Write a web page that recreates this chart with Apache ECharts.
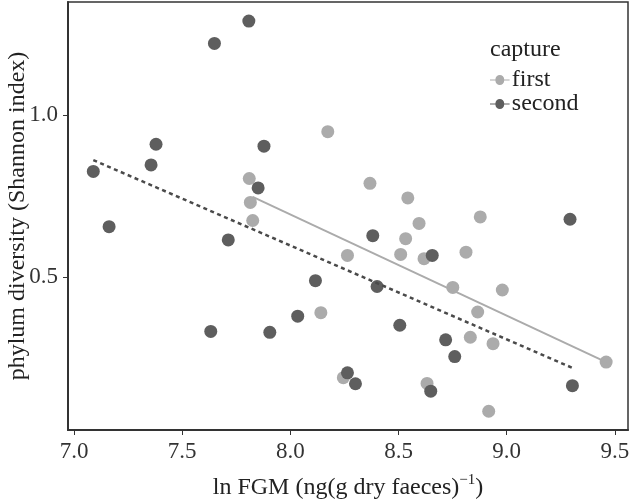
<!DOCTYPE html>
<html>
<head>
<meta charset="utf-8">
<script src="https://cdn.jsdelivr.net/npm/echarts@6/dist/echarts.min.js"></script>
<style>html,body{margin:0;padding:0;background:#fff;}#c{width:634px;height:503px;}</style>
</head>
<body>
<div id="c"></div>
<script>
// Data
var firstPoints = [
  [8.173,0.949],[7.810,0.804],[7.815,0.730],[7.826,0.674],[8.368,0.789],[8.543,0.744],
  [8.878,0.685],[8.595,0.665],[8.533,0.618],[8.264,0.566],[8.510,0.569],[8.618,0.556],
  [8.812,0.576],[8.751,0.467],[8.980,0.459],[8.141,0.389],[8.866,0.391],[8.832,0.313],
  [8.937,0.293],[8.245,0.188],[8.632,0.170],[9.460,0.236],[8.917,0.084]
];
var secondPoints = [
  [7.808,1.291],[7.649,1.222],[7.379,0.910],[7.878,0.904],[7.356,0.846],[7.089,0.826],
  [7.851,0.775],[7.162,0.655],[7.713,0.614],[8.116,0.488],[8.034,0.378],[7.632,0.331],
  [7.905,0.328],[8.264,0.203],[8.301,0.169],[9.293,0.678],[8.381,0.627],[8.656,0.566],
  [8.401,0.470],[8.506,0.350],[8.718,0.305],[8.760,0.253],[8.649,0.146],[9.304,0.163]
];
var firstFit = [[7.826,0.747],[9.460,0.236]];
var secondFit = [[7.089,0.861],[9.301,0.219]];
var xTicks = [7.0, 7.5, 8.0, 8.5, 9.0, 9.5];
var yTicks = [0.5, 1.0];
var seriesNames = ['first', 'second'];
var legendTitle = 'capture';

var lightColor = '#ababab';
var darkColor = '#5e5e5e';
var font = 'Liberation Serif';
var iconPath = 'path://M0,4.4 L5.5,4.4 A4.5,4.5 0 0,1 14.5,4.4 L20,4.4 L20,5.6 L14.5,5.6 A4.5,4.5 0 0,1 5.5,5.6 L0,5.6 Z';

var chart = echarts.init(document.getElementById('c'), null, {renderer: 'canvas'});
chart.setOption({
  animation: false,
  backgroundColor: '#fff',
  textStyle: {fontFamily: font},
  title: {
    text: legendTitle, left: 485, top: 33,
    textStyle: {fontFamily: font, fontSize: 24, fontWeight: 'normal', color: '#222'}
  },
  legend: {
    orient: 'vertical', left: 485, top: 63, itemGap: 0,
    itemWidth: 20, itemHeight: 10,
    textStyle: {fontFamily: font, fontSize: 24, color: '#222', padding: [0,0,0,-3]},
    data: [
      {name: seriesNames[0], icon: iconPath, itemStyle: {color: lightColor}},
      {name: seriesNames[1], icon: iconPath, itemStyle: {color: darkColor}}
    ]
  },
  grid: {left: 68, top: 2, right: 6, bottom: 73, containLabel: false, outerBoundsMode: 'none',
    show: true, borderColor: '#333', borderWidth: 1.5, backgroundColor: '#fff'},
  xAxis: {
    type: 'value', min: 6.972, max: 9.561,
    name: 'ln FGM (ng(g dry faeces){sup|−1})',
    nameLocation: 'middle', nameGap: 43, nameMoveOverlap: false,
    nameTextStyle: {fontFamily: font, fontSize: 24, color: '#222',
      rich: {sup: {fontFamily: font, fontSize: 15, color: '#222', padding: [0,0,14,0]}}},
    axisLine: {show: true, lineStyle: {color: '#333', width: 2}},
    axisTick: {show: true, length: 5, customValues: xTicks, lineStyle: {color: '#333', width: 1}},
    axisLabel: {customValues: xTicks, margin: 10, fontFamily: font, fontSize: 23, color: '#333',
      formatter: function (v) { return v.toFixed(1); }},
    splitLine: {show: false}
  },
  yAxis: {
    type: 'value', min: 0.026, max: 1.35,
    name: 'phylum diversity (Shannon index)',
    nameLocation: 'middle', nameGap: 38, nameMoveOverlap: false,
    nameTextStyle: {fontFamily: font, fontSize: 24, color: '#222'},
    axisLine: {show: true, lineStyle: {color: '#333', width: 2}},
    axisTick: {show: true, length: 5, customValues: yTicks, lineStyle: {color: '#333', width: 1}},
    axisLabel: {customValues: yTicks, margin: 10, fontFamily: font, fontSize: 23, color: '#333',
      formatter: function (v) { return v.toFixed(1); }},
    splitLine: {show: false}
  },
  series: [
    {name: seriesNames[0], type: 'scatter', data: firstPoints, symbol: 'circle', symbolSize: 13,
      itemStyle: {color: lightColor, opacity: 1}, z: 3},
    {name: seriesNames[1], type: 'scatter', data: secondPoints, symbol: 'circle', symbolSize: 13,
      itemStyle: {color: darkColor, opacity: 1}, z: 3},
    {name: seriesNames[0] + ' fit', type: 'line', data: firstFit, symbol: 'none', silent: true,
      lineStyle: {color: lightColor, width: 2, type: 'solid'}, z: 4},
    {name: seriesNames[1] + ' fit', type: 'line', data: secondFit, symbol: 'none', silent: true,
      lineStyle: {color: '#4a4a4a', width: 2.5, type: [4, 3.5]}, z: 4}
  ]
});
</script>
</body>
</html>
